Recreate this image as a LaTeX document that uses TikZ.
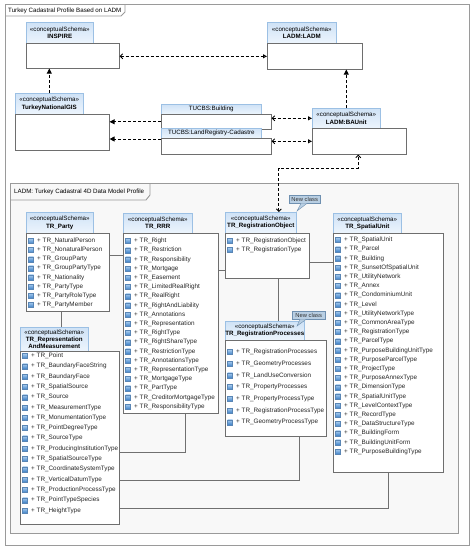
\documentclass[tikz,border=0pt]{standalone}
\usepackage{fontspec}
\setmainfont{Liberation Sans}
\usetikzlibrary{arrows.meta}

\definecolor{tabtop}{HTML}{CFE2F6}
\definecolor{tabbot}{HTML}{EDF5FD}
\definecolor{tabline}{HTML}{9CC0E4}
\definecolor{boxline}{HTML}{6E6E6E}
\definecolor{framegray}{HTML}{9A9A9A}
\definecolor{framefill}{HTML}{F8F8F8}
\definecolor{linkgray}{HTML}{707070}
\definecolor{notefill}{HTML}{B9CFE3}
\definecolor{noteline}{HTML}{6F90B0}
\definecolor{icontop}{HTML}{A9CCEE}
\definecolor{iconbot}{HTML}{3F82C8}
\definecolor{iconline}{HTML}{5A86B5}

\newcommand{\stereo}{«conceptualSchema»}
\newcommand{\itemlist}[5]{%
  \foreach \nm [count=\i from 0] in {#5} {%
    \node[icon] (#1-icon-\i) at (#2+5, #3+#4*\i) {};
    \node[item] (#1-item-\i) at (#2+11, #3+#4*\i) {+ TR\_\nm};
  }}

\begin{document}
\begin{tikzpicture}[x=1pt, y=-1pt,
  every node/.style={font=\fontsize{6.2}{7.2}\selectfont},
  tab/.style={draw=tabline, line width=0.6pt, top color=tabtop, bottom color=tabbot,
    anchor=north west, inner sep=0pt, align=center},
  body/.style={draw=boxline, line width=0.6pt, fill=white, anchor=north west, inner sep=0pt},
  item/.style={anchor=west, inner sep=0pt, text=black!85, font=\fontsize{6.35}{7.2}\selectfont},
  icon/.style={draw=iconline, line width=0.3pt, top color=icontop, bottom color=iconbot,
    minimum size=5pt, inner sep=0pt},
  dep/.style={draw, line width=0.9pt, dash pattern=on 3pt off 2pt},
  link/.style={draw=linkgray, line width=0.7pt},
  frame/.style={draw=framegray, line width=0.9pt},
  note/.style={draw=noteline, line width=0.4pt, fill=notefill, anchor=north west, inner sep=0pt,
    minimum height=8pt, text=black!80, font=\fontsize{5.8}{6}\selectfont}]
  \useasboundingbox[fill=white] (0,0) rectangle (473,550);

  % frames
  \draw[frame, fill=white] (5,4) rectangle (469,545);
  \draw[frame] (5,16) -- (121,16) -- (125,12) -- (125,4);
  \node[anchor=west, inner sep=0pt] (outer label) at (8,10.5) {Turkey Cadastral Profile Based on LADM};
  \draw[frame, fill=framefill] (10,183) rectangle (458,533);
  \draw[frame] (10,200) -- (146,200) -- (150,195) -- (150,183);
  \node[anchor=west, inner sep=0pt] (inner label) at (14,192) {LADM: Turkey Cadastral 4D Data Model Profile};

  % upper packages
  \node[tab, minimum width=67pt, minimum height=21pt] (inspire tab) at (26,22) {\stereo\\\textbf{INSPIRE}};
  \node[body, minimum width=93pt, minimum height=25pt] (inspire body) at (26,43) {};
  \node[tab, minimum width=69pt, minimum height=21pt] (ladm tab) at (267,22) {\stereo\\\textbf{LADM:LADM}};
  \node[body, minimum width=95pt, minimum height=26pt] (ladm body) at (267,43) {};
  \node[tab, minimum width=68pt, minimum height=21pt] (gis tab) at (15,93) {\stereo\\\textbf{TurkeyNationalGIS}};
  \node[body, minimum width=94pt, minimum height=36pt] (gis body) at (15,114) {};
  \node[tab, minimum width=100pt, minimum height=10pt] (bld tab) at (161,104) {TUCBS:Building};
  \node[body, minimum width=110pt, minimum height=15pt] (bld body) at (161,114) {};
  \node[tab, minimum width=100pt, minimum height=10pt] (lr tab) at (161,128) {TUCBS:LandRegistry-Cadastre};
  \node[body, minimum width=110pt, minimum height=16pt] (lr body) at (161,138) {};
  \node[tab, minimum width=68pt, minimum height=20pt] (bau tab) at (312,108) {\stereo\\\textbf{LADM:BAUnit}};
  \node[body, minimum width=94pt, minimum height=26pt] (bau body) at (312,128) {};

  % profile classes
  \node[tab, minimum width=67pt, minimum height=21pt] (party tab) at (26,212) {\stereo\\\textbf{TR\_Party}};
  \node[body, minimum width=83pt, minimum height=78pt] (party body) at (26,233) {};
  \node[tab, minimum width=69pt, minimum height=20pt] (rrr tab) at (123,213) {\stereo\\\textbf{TR\_RRR}};
  \node[body, minimum width=95pt, minimum height=180pt] (rrr body) at (123,233) {};
  \node[tab, minimum width=71pt, minimum height=21pt] (ro tab) at (225,212) {\stereo\\\textbf{TR\_RegistrationObject}};
  \node[body, minimum width=84pt, minimum height=45pt] (ro body) at (225,233) {};
  \node[tab, minimum width=78pt, minimum height=19pt] (rp tab) at (225,321) {\stereo\\\textbf{TR\_RegistrationProcesses}};
  \node[body, minimum width=101pt, minimum height=96pt] (rp body) at (225,340) {};
  \node[tab, minimum width=68pt, minimum height=20pt] (su tab) at (333,213) {\stereo\\\textbf{TR\_SpatialUnit}};
  \node[body, minimum width=110pt, minimum height=239pt] (su body) at (333,233) {};
  \node[tab, minimum width=68pt, minimum height=24pt] (repr tab) at (20,327)
    {\stereo\\\textbf{TR\_Representation}\\\textbf{AndMeasurement}};
  \node[body, minimum width=99pt, minimum height=173pt] (repr body) at (20,351) {};

  % attributes
  \itemlist{party}{26}{241}{9.1}{NaturalPerson, NonaturalPerson, GroupParty, GroupPartyType,
    Nationality, PartyType, PartyRoleType, PartyMember}
  \itemlist{rrr}{123}{241}{9.2}{Right, Restriction, Responsibility, Mortgage, Easement,
    LimitedRealRight, RealRight, RightAndLiability, Annotations, Representation, RightType,
    RightShareType, RestrictionType, AnnotationsType, RepresentationType, MortgageType,
    PartType, CreditorMortgageType, ResponsibilityType}
  \itemlist{ro}{225}{241}{9.1}{RegistrationObject, RegistrationType}
  \itemlist{rp}{225}{352}{11.7}{RegistrationProcesses, GeometryProcesses, LandUseConversion,
    PropertyProcesses, PropertyProcessType, RegistrationProcessType, GeometryProcessType}
  \itemlist{su}{333}{240}{9.2}{SpatialUnit, Parcel, Building, SunsetOfSpatialUnit,
    UtilityNetwork, Annex, CondominiumUnit, Level, UtilityNetworkType, CommonAreaType,
    RegistrationType, ParcelType, PurposeBuildingUnitType, PurposeParcelType, ProjectType,
    PurposeAnnexType, DimensionType, SpatialUnitType, LevelContextType, RecordType,
    DataStructureType, BuildingForm, BuildingUnitForm, PurposeBuildingType}
  \itemlist{repr}{20}{356}{10.3}{Point, BaundaryFaceString, BaundaryFace, SpatialSource,
    Source, MeasurementType, MonumentationType, PointDegreeType, SourceType,
    ProducingInstitutionType, SpatialSourceType, CoordinateSystemType, VerticalDatumType,
    ProductionProcessType, PointTypeSpecies, HeightType}

  % dependencies
  \draw[dep, -{Triangle[length=5pt,width=5pt]}] (gis tab.north) -- (gis tab.north |- inspire body.south);
  \draw[dep, {Straight Barb[length=2.5pt,width=5pt]}-{Triangle[open,length=4pt,width=4pt]}]
    (ladm body.west -| inspire body.east) -- (ladm body.west);
  \draw[dep, -{Triangle[length=5pt,width=5pt]}] (bld body.west) -- (bld body.west -| gis body.east);
  \draw[dep, -{Triangle[length=5pt,width=5pt]}]
    ([yshift=-1pt]lr body.north west) -- ([yshift=-1pt]lr body.north west -| gis body.east);
  \draw[dep, {Straight Barb[length=2.5pt,width=5pt]}-{Triangle[open,length=4pt,width=4pt]}]
    (bau tab.west -| bld body.east) -- (bau tab.west);
  \draw[dep, {Straight Barb[length=2.5pt,width=5pt]}-{Triangle[open,length=4pt,width=4pt]}]
    ([yshift=5pt]lr body.east) -- ([yshift=5pt]lr body.east -| bau body.west);
  \draw[dep, -{Triangle[length=5pt,width=5pt]}] (bau tab.north) -- (bau tab.north |- ladm body.south);
  \draw[dep, {Straight Barb[length=2.5pt,width=5pt]}-{Straight Barb[length=2.5pt,width=5pt]}]
    ([xshift=18pt]ro tab.north) -- ++(0,-44) -| ([xshift=-1pt]bau body.south);

  % associations
  \draw[link] ([yshift=17pt]party body.east) -- ([yshift=17pt]party body.east -| rrr body.west);
  \draw[link] ([yshift=-14.5pt]ro body.west) -- ([yshift=-14.5pt]ro body.west -| rrr body.east);
  \draw[link] ([yshift=-6.5pt]ro body.east) -- ([yshift=-6.5pt]ro body.east -| su body.west);
  \draw[link] ([xshift=-6.5pt]party body.south) -- ([xshift=-6.5pt]party body.south |- repr tab.north);
  \draw[link] ([xshift=11pt]ro body.south) -- ([xshift=11pt]ro body.south |- rp tab.north);
  \draw[link] ([yshift=-14.5pt]repr body.east) -| ([xshift=14.5pt]rrr body.south);
  \draw[link] ([yshift=-42.5pt]repr body.east) -| ([xshift=23.5pt]rp body.south);
  \draw[link] ([yshift=-70.5pt]repr body.east) -| (su body.south);

  % notes
  \node[note, minimum width=31pt] (note ro) at (289,195) {New class};
  \coordinate (note ro tip) at (297,211);
  \filldraw[fill=notefill, draw=noteline, line width=0.4pt]
    ([xshift=12pt]note ro.south west) -- (note ro tip) -- ([xshift=18pt]note ro.south west);
  \node[note, minimum width=33pt] (note rp) at (292,311) {New class};
  \coordinate (note rp tip) at (297,326);
  \filldraw[fill=notefill, draw=noteline, line width=0.4pt]
    ([xshift=8pt]note rp.south west) -- (note rp tip) -- ([xshift=14pt]note rp.south west);
\end{tikzpicture}
\end{document}
